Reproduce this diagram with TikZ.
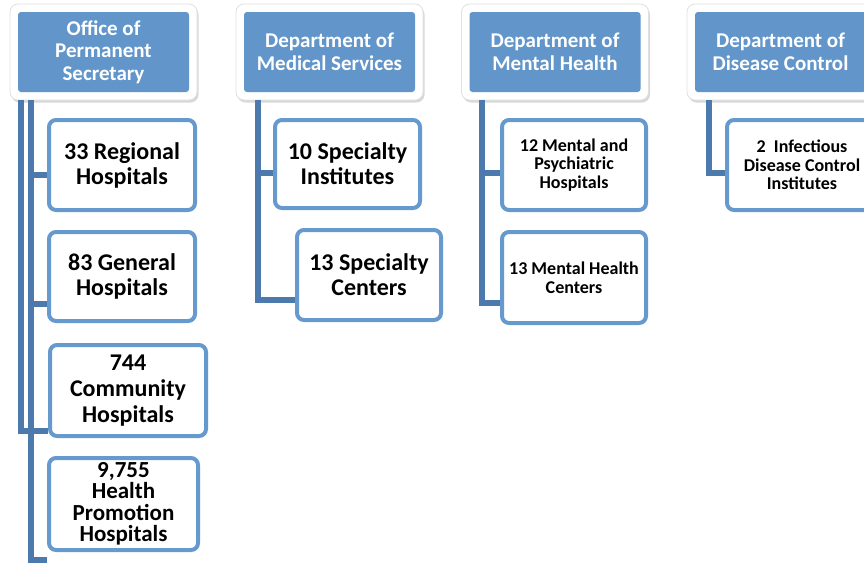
\documentclass[tikz,border=0pt]{standalone}
\usepackage{fontspec}
\setmainfont{Carlito}
\usetikzlibrary{shadows}

\definecolor{headblue}{RGB}{98,150,203}
\definecolor{boxblue}{RGB}{102,153,206}
\definecolor{linkblue}{RGB}{76,122,172}

\tikzset{
  head/.style={rectangle, rounded corners=8pt, fill=white, draw=black!12,
    line width=.8pt, inner sep=0pt,
    minimum width=187pt, minimum height=96pt, align=center, text=white,
    font=\bfseries\fontsize{21}{22.5}\selectfont,
    drop shadow={shadow xshift=1.5pt, shadow yshift=-2.5pt, opacity=.3, fill=black!50},
    path picture={\fill[headblue, rounded corners=3pt]
      ([shift={(8pt,-8pt)}]path picture bounding box.north west) rectangle
      ([shift={(-8pt,8pt)}]path picture bounding box.south east);}},
  unit/.style={rectangle, rounded corners=7pt, draw=boxblue, line width=4pt,
    fill=white, inner sep=0pt, align=center,
    font=\bfseries\fontsize{24}{25}\selectfont},
  small/.style={font=\bfseries\fontsize{18}{18.5}\selectfont},
  link/.style={draw=linkblue, line width=6pt, line join=miter}
}

\begin{document}
\begin{tikzpicture}[x=1pt, y=-1pt]

    \clip (0,0) rectangle (864,563);
    \fill[white] (0,0) rectangle (864,563);

    % heads of the four branches
    \node[head] (ops) at (103.5,52) {Office of\\Permanent\\Secretary};
    \node[head] (dms) at (329.5,52) {Department of\\Medical Services};
    \node[head] (dmh) at (555,52) {Department of\\Mental Health};
    \node[head] (ddc) at (780.5,52) {Department of\\Disease Control};

    % office of permanent secretary
    \node[unit, minimum width=146pt, minimum height=90pt] (reg) at (122,165) {33 Regional\\Hospitals};
    \node[unit, minimum width=146pt, minimum height=89pt] (gen) at (122,276.5) {83 General\\Hospitals};
    \node[unit, minimum width=156pt, minimum height=91pt, font=\bfseries\fontsize{24}{26}\selectfont] (com) at (128,390.5) {744\\Community\\Hospitals};
    \node[unit, minimum width=149pt, minimum height=92pt, font=\bfseries\fontsize{23}{21.5}\selectfont] (hpr) at (123.5,504) {9,755\\Health\\Promotion\\Hospitals};

    \coordinate (opsL) at ([xshift=11pt]ops.south west);
    \coordinate (opsR) at ([xshift=21pt]ops.south west);
    \draw[link] (opsL) |- ([yshift=-40pt]com.west);
    \draw[link] (opsR) |- ([yshift=-56pt]hpr.west);
    \draw[link] ([yshift=-10pt]reg.west) -| (opsR);
    \draw[link] ([yshift=-27pt]gen.west) -| (opsR);

    % department of medical services
    \node[unit, minimum width=145pt, minimum height=88pt] (ins) at (347.5,164) {10 Specialty\\Institutes};
    \node[unit, minimum width=144pt, minimum height=90pt] (cen) at (369,275) {13 Specialty\\Centers};

    \coordinate (dmsL) at ([xshift=22pt]dms.south west);
    \draw[link] (dmsL) |- ([yshift=-25pt]cen.west);
    \draw[link] ([yshift=-9pt]ins.west) -| (dmsL);

    % department of mental health
    \node[unit, small, minimum width=144pt, minimum height=90pt] (psy) at (574,165) {12 Mental and\\Psychiatric\\Hospitals};
    \node[unit, small, minimum width=144pt, minimum height=91pt] (mhc) at (574,277.5) {13 Mental Health\\Centers};

    \coordinate (dmhL) at ([xshift=21pt]dmh.south west);
    \draw[link] (dmhL) |- ([yshift=-25.5pt]mhc.west);
    \draw[link] ([yshift=-8pt]psy.west) -| (dmhL);

    % department of disease control
    \node[unit, small, minimum width=150pt, minimum height=90pt] (idc) at (802,165) {2~ Infectious\\Disease Control\\Institutes};

    \coordinate (ddcL) at ([xshift=22pt]ddc.south west);
    \draw[link] (ddcL) |- ([yshift=-8pt]idc.west);

\end{tikzpicture}
\end{document}
